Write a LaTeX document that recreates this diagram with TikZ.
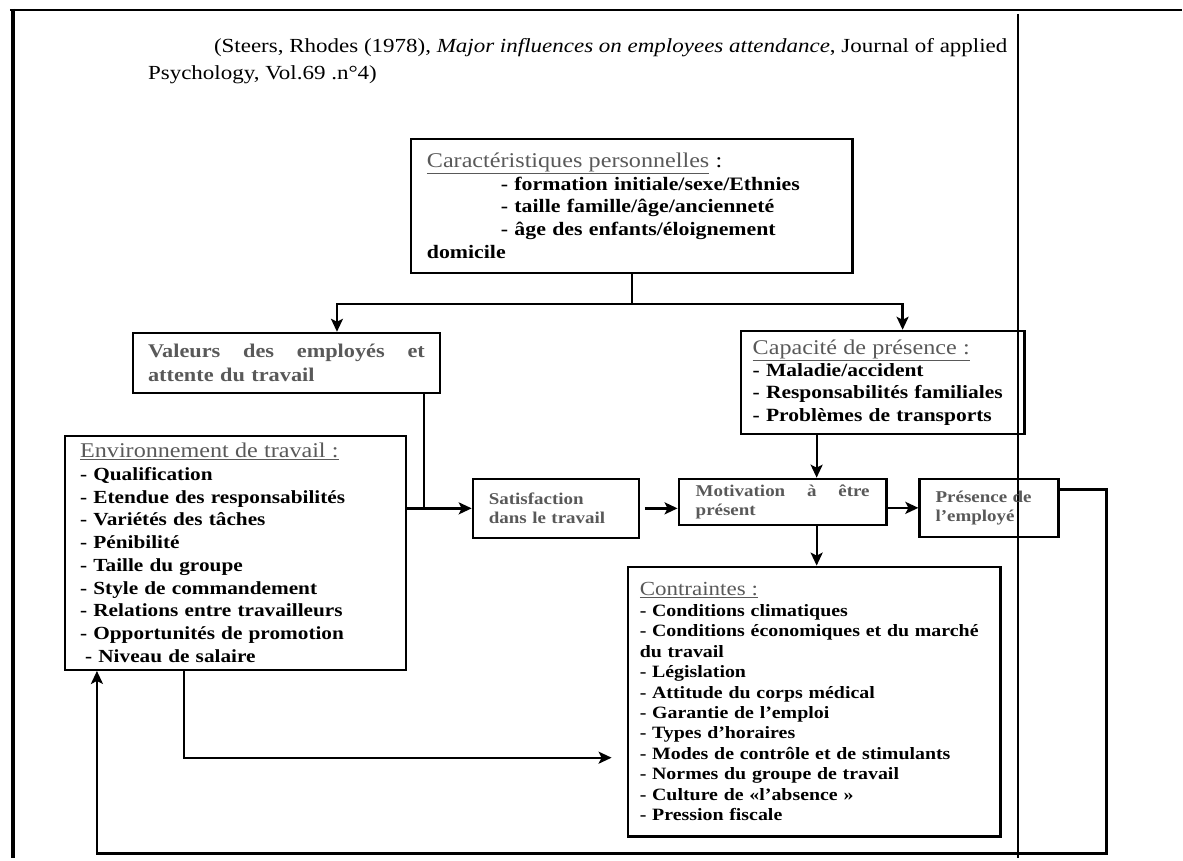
\documentclass[tikz,border=0pt]{standalone}
\usepackage{fontspec}
\setmainfont{Liberation Serif}[FakeStretch=1.15]
\usetikzlibrary{arrows.meta,positioning}

\definecolor{txtgrey}{gray}{0.35}

\begin{document}
\begin{tikzpicture}[x=1pt, y=-1pt, line width=2.3pt, line join=miter,
    box/.style={draw, line width=2.4pt, anchor=north west, inner sep=0pt, align=left},
    arr/.style={-{Stealth[length=13pt, width=12pt, inset=3pt]}}]

  % ── 外框 ──
  \draw[line width=1.6pt] (10,10) -- (1183,10);
  \draw[line width=4pt] (12.7,9) -- (12.7,859);
  \draw[line width=2pt] (1019,14) -- (1019,859);

  % ── 出处 ──
  \node[anchor=base west, inner sep=0pt, font=\fontsize{20}{24}\selectfont] (cite1) at (213,53)
    {(Steers, Rhodes (1978), \textit{Major influences on employees attendance}, Journal of applied};
  \node[anchor=base west, inner sep=0pt, font=\fontsize{20}{24}\selectfont] (cite2) at (147,80)
    {Psychology, Vol.69 .n°4)};

  % ── 方框 ──
  \node[box, minimum width=442pt, minimum height=134pt, text width=410pt,
        font=\fontsize{19}{22.8}\selectfont\bfseries] (carac) at (410,137.7)
    {{\mdseries\fontsize{21}{22.8}\selectfont\textcolor{txtgrey}{\underline{Caractéristiques personnelles}} :}\\
     \hspace*{74pt}- formation initiale/sexe/Ethnies\\
     \hspace*{74pt}- taille famille/âge/ancienneté\\
     \hspace*{74pt}- âge des enfants/éloignement\\
     domicile};

  \node[box, minimum width=307pt, minimum height=60pt, text width=277pt,
        font=\fontsize{19.4}{24}\selectfont\bfseries\color{txtgrey}] (valeurs) at (132,332)
    {Valeurs\hfill des\hfill employés\hfill et\\attente du travail};

  \node[box, minimum width=284pt, minimum height=103pt, text width=260pt,
        font=\fontsize{18.7}{22.3}\selectfont\bfseries] (capacite) at (740,330)
    {{\mdseries\fontsize{21}{22.3}\selectfont\textcolor{txtgrey}{\underline{Capacité de présence :}}}\\
     - Maladie/accident\\
     - Responsabilités familiales\\
     - Problèmes de transports};

  \node[box, minimum width=341pt, minimum height=234pt, text width=311pt,
        font=\fontsize{18.5}{22.7}\selectfont\bfseries] (env) at (64,435)
    {{\mdseries\fontsize{21}{22.7}\selectfont\textcolor{txtgrey}{\underline{Environnement de travail :}}}\\
     - Qualification\\
     - Etendue des responsabilités\\
     - Variétés des tâches\\
     - Pénibilité\\
     - Taille du groupe\\
     - Style de commandement\\
     - Relations entre travailleurs\\
     - Opportunités de promotion\\
     \hspace*{5pt}- Niveau de salaire};

  \node[box, minimum width=166pt, minimum height=59pt, text width=134pt,
        font=\fontsize{16.5}{19}\selectfont\bfseries\color{txtgrey}] (satis) at (472,478)
    {Satisfaction\\dans le travail};

  \node[box, minimum width=208pt, minimum height=46pt, text width=174pt,
        font=\fontsize{16.5}{19}\selectfont\bfseries\color{txtgrey}] (motiv) at (678,478)
    {Motivation\hfill à\hfill être\\présent};

  \node[box, minimum width=139pt, minimum height=58pt, text width=107pt,
        font=\fontsize{16.5}{19}\selectfont\bfseries\color{txtgrey}] (presence) at (919,478)
    {Présence de\\l’employé};

  \node[box, minimum width=373pt, minimum height=270pt, text width=349pt,
        font=\fontsize{17.3}{20.5}\selectfont\bfseries] (contr) at (627,566)
    {{\mdseries\fontsize{20}{20.5}\selectfont\textcolor{txtgrey}{\underline{Contraintes :}}}\\
     - Conditions climatiques\\
     - Conditions économiques et du marché\\
     du travail\\
     - Législation\\
     - Attitude du corps médical\\
     - Garantie de l’emploi\\
     - Types d’horaires\\
     - Modes de contrôle et de stimulants\\
     - Normes du groupe de travail\\
     - Culture de «l’absence »\\
     - Pression fiscale};

  % ── 连线 ──
  \draw (carac.south) -- ++(0,30) coordinate (split);
  \draw[arr] (split) -| ([xshift=50.5pt]valeurs.north);
  \draw[arr] (split) -| ([xshift=20pt]capacite.north);

  \draw ([xshift=-17pt]valeurs.south east) -- ([xshift=-17pt]valeurs.south east |- satis.west);
  \draw[arr] (env.east |- satis.west) -- (satis.west);
  \draw[arr, shorten <=5pt] (satis.east) -- (satis.east -| motiv.west);
  \draw[arr] (presence.west -| motiv.east) -- (presence.west);

  \draw[arr] ([xshift=34pt]motiv.north |- capacite.south) -- ([xshift=34pt]motiv.north);
  \draw[arr] ([xshift=34pt]motiv.south) -- ([xshift=34pt]motiv.south |- contr.north);

  \draw[arr, shorten >=15pt] ([xshift=-51.5pt]env.south) |- ([yshift=-56pt]contr.west);

  % ── 反馈回路 ──
  \coordinate (fbcorner) at (1107,854);
  \draw[arr, line width=2.8pt] ([yshift=18pt]presence.east) -| (fbcorner) -| ([xshift=33pt]env.south west);

  \path[use as bounding box] (0,0) rectangle (1183,859);
\end{tikzpicture}
\end{document}
